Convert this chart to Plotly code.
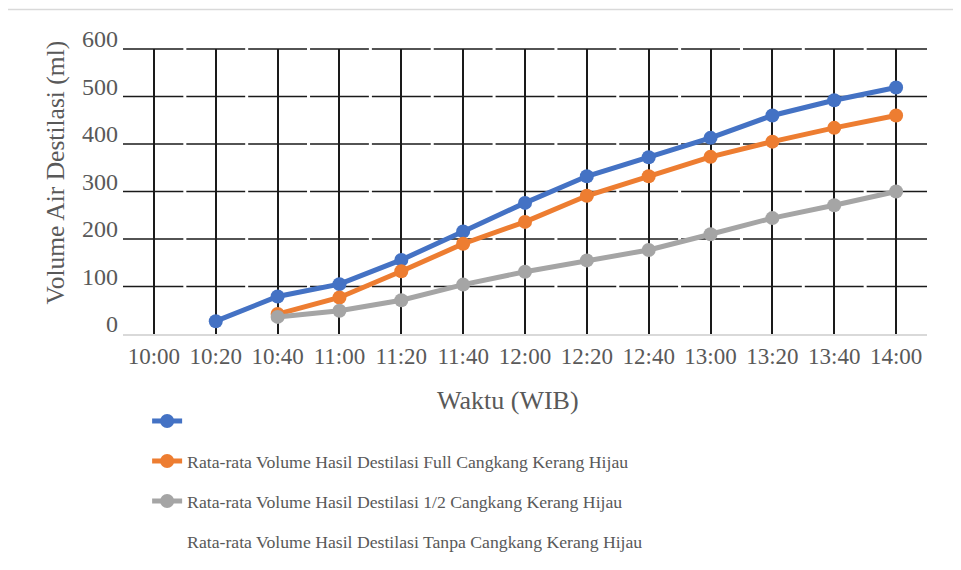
import plotly.graph_objects as go

waktu = ["10:00", "10:20", "10:40", "11:00", "11:20", "11:40", "12:00",
         "12:20", "12:40", "13:00", "13:20", "13:40", "14:00"]
seri_biru = [None, 27, 79, 105, 156, 216, 276, 332, 372, 413, 460, 492, 519]
seri_full = [None, None, 42, 77, 132, 190, 236, 291, 332, 373, 405, 434, 460]
seri_setengah = [None, None, 36, 49, 71, 104, 131, 155, 177, 210, 244, 271, 300]
y_ticks = [0, 100, 200, 300, 400, 500, 600]

nama_full = "Rata-rata Volume Hasil Destilasi Full Cangkang Kerang Hijau"
nama_setengah = "Rata-rata Volume Hasil Destilasi 1/2 Cangkang Kerang Hijau"
nama_tanpa = "Rata-rata Volume Hasil Destilasi Tanpa Cangkang Kerang Hijau"

FONT = "Liberation Serif, Times New Roman, serif"
TXT = "#595959"

fig = go.Figure()

def add_series(vals, color, name, group):
    fig.add_trace(go.Scatter(
        x=waktu, y=vals, mode="lines+markers", name=name, legendgroup=group,
        line=dict(color=color, width=5),
        marker=dict(color=color, size=14),
        connectgaps=False,
    ))

add_series(seri_biru, "#4472C4", "", "a")
add_series(seri_full, "#ED7D31", nama_full, "b")
add_series(seri_setengah, "#A5A5A5", nama_setengah, "c")
fig.add_trace(go.Scatter(
    x=[waktu[0]], y=[None], mode="lines", name=nama_tanpa, legendgroup="d",
    line=dict(color="rgba(0,0,0,0)", width=5),
))

# horizontal gridlines with small gaps at category boundaries
n = len(waktu)
gap = 1.5 / 804
shapes = []
for v in y_ticks[1:]:
    for j in range(n):
        shapes.append(dict(
            type="line", xref="paper", yref="paper", layer="below",
            x0=j / n + (gap if j > 0 else 0), x1=(j + 1) / n - (gap if j < n - 1 else 0),
            y0=v / y_ticks[-1], y1=v / y_ticks[-1],
            line=dict(color="#1a1a1a", width=1.5),
        ))
# outer chart border
shapes.append(dict(
    type="rect", xref="paper", yref="paper",
    x0=(4.5 - 123) / 804, x1=(966 - 123) / 804,
    y0=(334 - 576) / 285, y1=(334 - 9.5) / 285,
    line=dict(color="#D9D9D9", width=1.5), fillcolor="rgba(0,0,0,0)", layer="below",
))

fig.update_layout(
    width=953, height=562,
    margin=dict(l=115, r=34, t=41, b=236, autoexpand=False),
    paper_bgcolor="white", plot_bgcolor="white",
    font=dict(family=FONT, color=TXT),
    showlegend=True,
    legend=dict(
        x=0.03, y=-0.242, xanchor="left", yanchor="top",
        font=dict(family=FONT, size=17.7, color=TXT),
        tracegroupgap=14, bgcolor="rgba(0,0,0,0)",
        itemwidth=30,
    ),
    shapes=shapes,
    annotations=[
        dict(text="Waktu (WIB)", xref="paper", yref="paper",
             x=(507.5 - 123) / 804, y=(334 - 400) / 285,
             xanchor="center", yanchor="middle", showarrow=False,
             font=dict(family=FONT, size=26, color=TXT)),
        dict(text="Volume Air Destilasi (ml)", xref="paper", yref="paper",
             x=(55 - 123) / 804, y=(334 - 172.5) / 285, textangle=-90,
             xanchor="center", yanchor="middle", showarrow=False,
             font=dict(family=FONT, size=25.5, color=TXT)),
    ],
)

fig.update_xaxes(
    type="category", categoryorder="array", categoryarray=waktu,
    range=[-0.5, n - 0.5],
    showgrid=True, gridcolor="#1a1a1a", gridwidth=1.5,
    showline=True, linecolor="#D9D9D9", linewidth=2,
    ticks="", tickfont=dict(family=FONT, size=23, color=TXT),
    fixedrange=True,
)
fig.update_yaxes(
    range=[y_ticks[0], y_ticks[-1]], tickvals=y_ticks,
    showgrid=False, zeroline=False, showline=False,
    ticks="", tickfont=dict(family=FONT, size=24, color=TXT),
    ticklabelshift=-10, ticklabelstandoff=4,
    fixedrange=True,
)

fig.write_html("out.html")
